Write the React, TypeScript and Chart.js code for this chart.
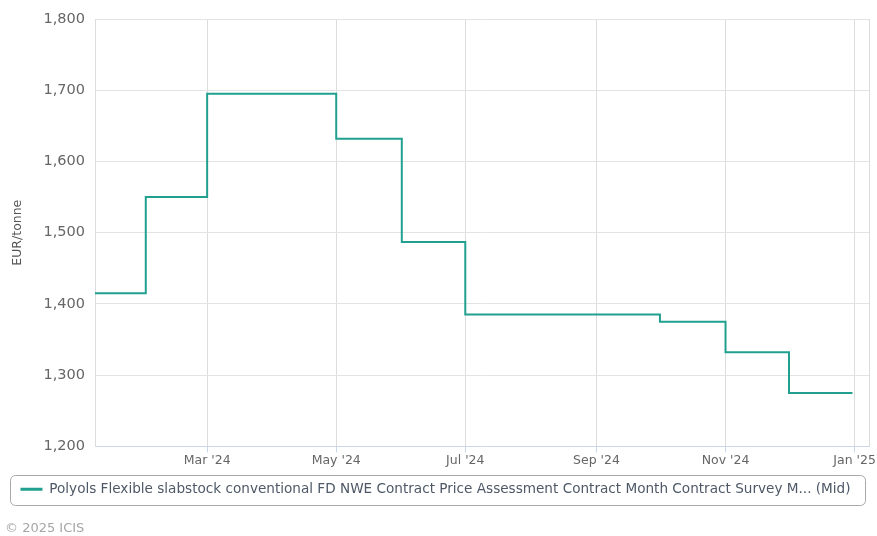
import React, { useEffect, useRef } from "react";
import { Chart, registerables } from "chart.js";

Chart.register(...registerables);

// ---- data ----
const periodStarts = [
  "2024-01-01", "2024-02-01", "2024-03-01", "2024-04-01", "2024-05-01", "2024-06-01",
  "2024-07-01", "2024-08-01", "2024-09-01", "2024-10-01", "2024-11-01", "2024-12-01",
];
const prices = [1415, 1550, 1695, 1695, 1632, 1487, 1385, 1385, 1385, 1375, 1332, 1275];
const seriesEnd = "2024-12-31";
const axisStart = "2024-01-08";
const axisEnd = "2025-01-08";
const tickDates = ["2024-03-01", "2024-05-01", "2024-07-01", "2024-09-01", "2024-11-01", "2025-01-01"];
const tickLabels = ["Mar '24", "May '24", "Jul '24", "Sep '24", "Nov '24", "Jan '25"];
const yTicks = [1200, 1300, 1400, 1500, 1600, 1700, 1800];
const seriesLabel =
  "Polyols Flexible slabstock conventional FD NWE Contract Price Assessment Contract Month Contract Survey M... (Mid)";
const yTitle = "EUR/tonne";
const credit = "\u00a9 2025 ICIS";

const EPOCH = Date.UTC(2024, 0, 1);
const toDay = (s: string) => {
  const [y, m, d] = s.split("-").map(Number);
  return (Date.UTC(y, m - 1, d) - EPOCH) / 86400000;
};

const TEAL = "#21a08f";
const FONT = "'DejaVu Sans', sans-serif";

export default function App() {
  const ref = useRef<HTMLCanvasElement | null>(null);

  useEffect(() => {
    if (!ref.current) return;
    const points = periodStarts.map((s, i) => ({ x: toDay(s), y: prices[i] }));
    points.push({ x: toDay(seriesEnd), y: prices[prices.length - 1] });
    const tickDays = tickDates.map(toDay);

    const decor = {
      id: "decor",
      afterDraw(chart: any) {
        const { ctx, chartArea } = chart;
        ctx.save();
        // right border of plot
        ctx.strokeStyle = "#dcdcdc";
        ctx.lineWidth = 1;
        ctx.beginPath();
        ctx.moveTo(Math.round(chartArea.right) + 0.5, chartArea.top);
        ctx.lineTo(Math.round(chartArea.right) + 0.5, chartArea.bottom);
        ctx.stroke();
        // legend border
        const lg = chart.legend;
        if (lg && lg.legendHitBoxes && lg.legendHitBoxes.length) {
          const hb = lg.legendHitBoxes[0];
          const x0 = Math.round(hb.left - 10) + 0.5;
          const x1 = Math.round(hb.left + hb.width + 14) + 0.5;
          const y0 = Math.round(hb.top - 7) + 0.5;
          const y1 = Math.round(hb.top + hb.height + 9) + 0.5;
          const r = 5;
          ctx.strokeStyle = "#a8a8a8";
          ctx.beginPath();
          ctx.moveTo(x0 + r, y0);
          ctx.lineTo(x1 - r, y0);
          ctx.arcTo(x1, y0, x1, y0 + r, r);
          ctx.lineTo(x1, y1 - r);
          ctx.arcTo(x1, y1, x1 - r, y1, r);
          ctx.lineTo(x0 + r, y1);
          ctx.arcTo(x0, y1, x0, y1 - r, r);
          ctx.lineTo(x0, y0 + r);
          ctx.arcTo(x0, y0, x0 + r, y0, r);
          ctx.closePath();
          ctx.stroke();
        }
        // credit
        ctx.fillStyle = "#a6a6a6";
        ctx.font = `13px ${FONT}`;
        ctx.textBaseline = "middle";
        ctx.textAlign = "left";
        ctx.fillText(credit, 5, 529);
        ctx.restore();
      },
    };

    const chart = new Chart(ref.current, {
      type: "line",
      data: {
        datasets: [
          {
            label: seriesLabel,
            data: points,
            borderColor: TEAL,
            backgroundColor: TEAL,
            borderWidth: 2,
            pointRadius: 0,
            stepped: "before",
            fill: false,
          },
        ],
      },
      plugins: [decor],
      options: {
        responsive: false,
        animation: false,
        layout: { padding: { top: 19, right: 6, bottom: 30, left: 0 } },
        plugins: {
          tooltip: { enabled: false },
          legend: {
            position: "bottom",
            labels: {
              boxWidth: 22,
              boxHeight: 3,
              padding: 8,
              color: "#4e5866",
              font: { family: FONT, size: 13.6, weight: "normal" },
              generateLabels: (c: any) =>
                Chart.defaults.plugins.legend.labels
                  .generateLabels(c)
                  .map((l: any) => ({ ...l, lineWidth: 0 })),
            },
          },
        },
        scales: {
          x: {
            type: "linear",
            min: toDay(axisStart),
            max: toDay(axisEnd),
            afterBuildTicks: (s: any) => {
              s.ticks = tickDays.map((v) => ({ value: v }));
            },
            afterFit: (s: any) => {
              s.height = 28;
            },
            ticks: {
              color: "#666666",
              font: { family: FONT, size: 12.5 },
              padding: 1,
              maxRotation: 0,
              autoSkip: false,
              callback: (v: any) => {
                const i = tickDays.indexOf(Number(v));
                return i >= 0 ? tickLabels[i] : "";
              },
            },
            grid: { color: "#dcdcdc", tickColor: "#ccd6eb", tickLength: 6 },
            border: { color: "#ccd6eb", width: 1 },
          },
          y: {
            min: yTicks[0],
            max: yTicks[yTicks.length - 1],
            afterBuildTicks: (s: any) => {
              s.ticks = yTicks.map((v) => ({ value: v }));
            },
            afterFit: (s: any) => {
              s.width = 95;
            },
            ticks: {
              color: "#666666",
              font: { family: FONT, size: 14.5 },
              padding: 10,
              callback: (v: any) => Number(v).toLocaleString("en-US"),
            },
            grid: { color: "#e3e3e3", drawTicks: false },
            border: { color: "#dcdcdc" },
            title: {
              display: true,
              text: yTitle,
              color: "#555555",
              font: { family: FONT, size: 12.5 },
              padding: { top: 10, bottom: 0 },
            },
          },
        },
      },
    });
    return () => chart.destroy();
  }, []);

  return (
    <div style={{ position: "fixed", left: 0, top: 0, width: 877, height: 536, background: "#fff" }}>
      <canvas ref={ref} width={877} height={536} style={{ width: 877, height: 536 }} />
    </div>
  );
}
